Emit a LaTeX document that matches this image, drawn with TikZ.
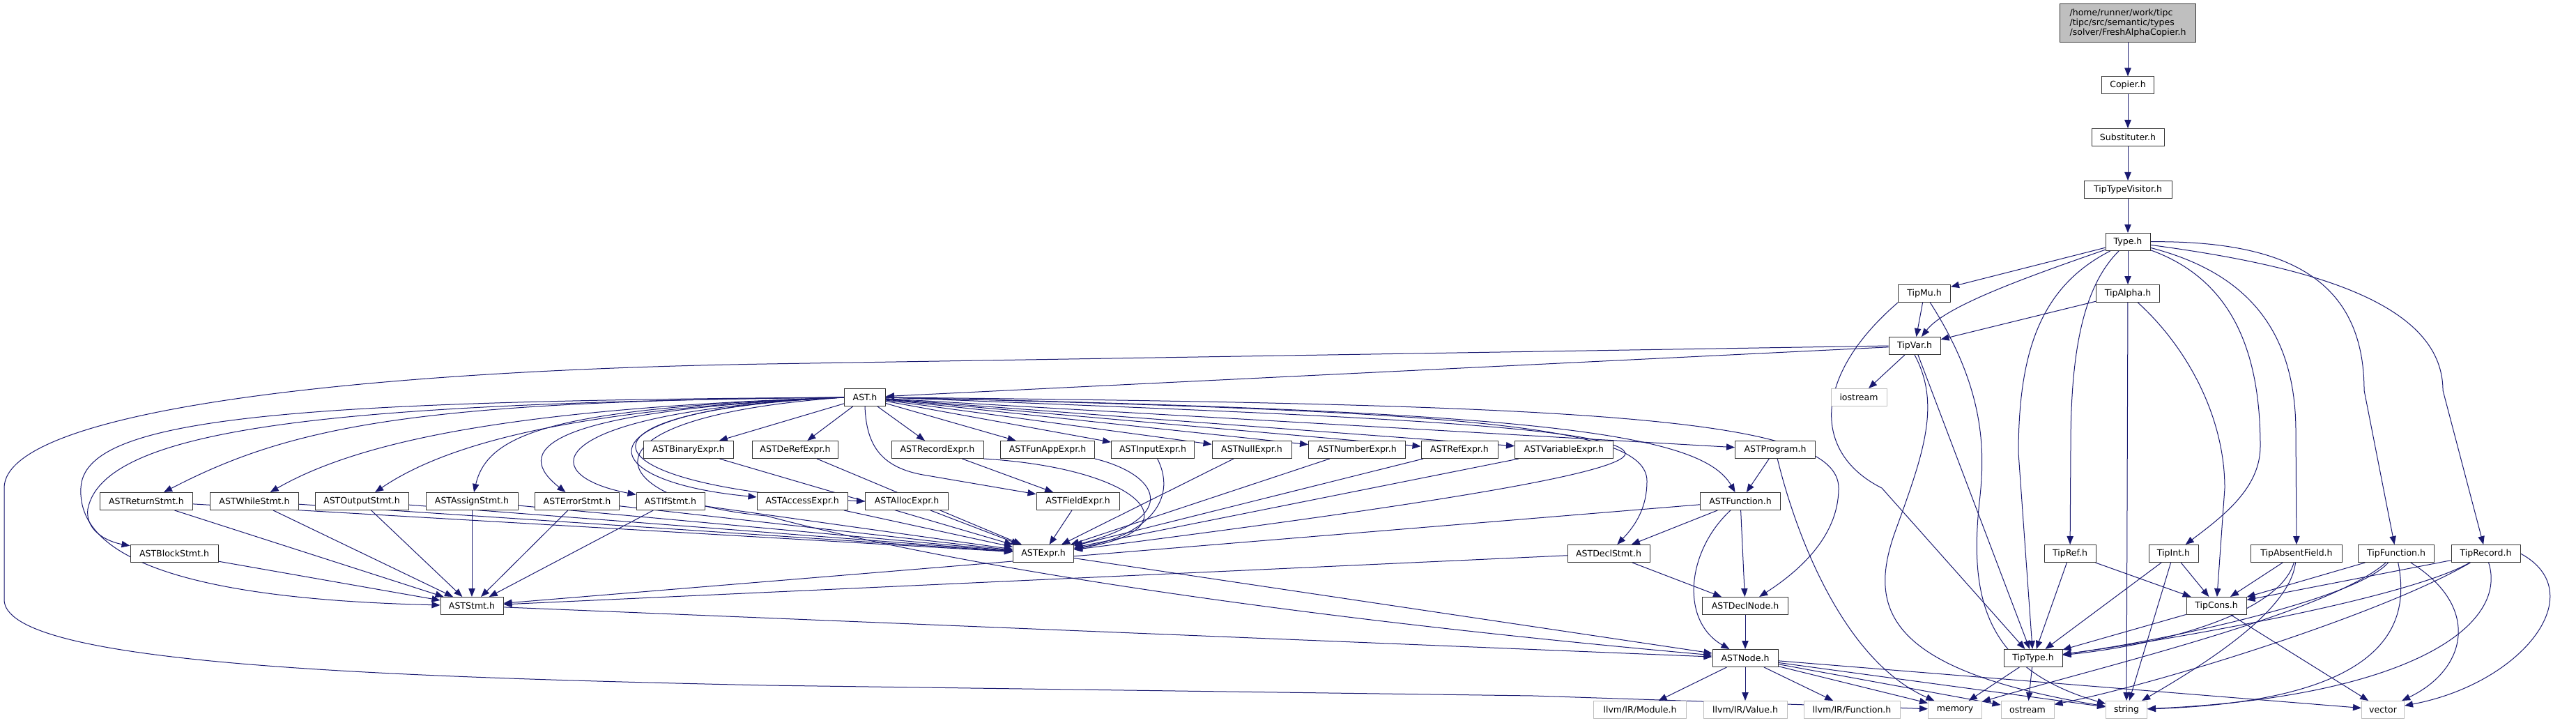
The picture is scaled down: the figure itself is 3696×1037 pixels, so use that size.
\documentclass[tikz,border=0pt]{standalone}
\usepackage{fontspec}
\setmainfont{DejaVu Sans}
\usetikzlibrary{arrows.meta,backgrounds}
\definecolor{edgeblue}{HTML}{191970}
\begin{document}
\begin{tikzpicture}[x=0.75pt,y=-0.75pt,
  box/.style={draw=black!80, line width=0.75pt, fill=white, minimum height=18.75pt, inner sep=0pt, font=\fontsize{9.4}{10.5}\selectfont, text=black},
  ext/.style={box, draw=black!25},
  bw/.style={minimum width=#1*0.75pt},
  dep/.style={draw=edgeblue, line width=0.75pt, -{Triangle[length=9pt,width=7pt]}}]
\useasboundingbox (0,0) rectangle (3696,1037);
% top chain
\node[box,bw=195,minimum height=41.25pt,fill=black!25,align=left] (fresh) at (3053,33) {/home/runner/work/tipc\\/tipc/src/semantic/types\\/solver/FreshAlphaCopier.h};
\node[box,bw=75] (copier) at (3053,122.5) {Copier.h};
\node[box,bw=104] (subst) at (3053,197) {Substituter.h};
\node[box,bw=126] (visitor) at (3053,272) {TipTypeVisitor.h};
\node[box,bw=64] (type) at (3053,347) {Type.h};
\node[box,bw=75] (tipmu) at (2761,421) {TipMu.h};
\node[box,bw=91] (tipalpha) at (3053,421) {TipAlpha.h};
\node[box,bw=74] (tipvar) at (2747,496) {TipVar.h};
\node[ext,bw=80] (iostream) at (2667,570) {iostream};
\node[box,bw=59] (ast) at (1241,570) {AST.h};
% row 645
\node[box,bw=129] (binary) at (988,645) {ASTBinaryExpr.h};
\node[box,bw=123] (deref) at (1141,645) {ASTDeRefExpr.h};
\node[box,bw=132] (record) at (1345,645) {ASTRecordExpr.h};
\node[box,bw=135] (funapp) at (1503,645) {ASTFunAppExpr.h};
\node[box,bw=119] (input) at (1654,645) {ASTInputExpr.h};
\node[box,bw=114] (null) at (1796,645) {ASTNullExpr.h};
\node[box,bw=139] (number) at (1947,645) {ASTNumberExpr.h};
\node[box,bw=110] (ref) at (2094,645) {ASTRefExpr.h};
\node[box,bw=141] (variable) at (2244,645) {ASTVariableExpr.h};
\node[box,bw=115] (program) at (2547,645) {ASTProgram.h};
% row 719
\node[box,bw=133] (ret) at (210,719) {ASTReturnStmt.h};
\node[box,bw=127] (wh) at (365,719) {ASTWhileStmt.h};
\node[box,bw=134] (output) at (519,719) {ASTOutputStmt.h};
\node[box,bw=132] (assign) at (677,719) {ASTAssignStmt.h};
\node[box,bw=121] (error) at (828,719) {ASTErrorStmt.h};
\node[box,bw=98] (ifs) at (962,719) {ASTIfStmt.h};
\node[box,bw=130] (access) at (1151,719) {ASTAccessExpr.h};
\node[box,bw=119] (alloc) at (1301,719) {ASTAllocExpr.h};
\node[box,bw=119] (field) at (1546.5,719) {ASTFieldExpr.h};
\node[box,bw=115] (func) at (2497,719) {ASTFunction.h};
% row 794
\node[box,bw=126] (block) at (250,794) {ASTBlockStmt.h};
\node[box,bw=87] (expr) at (1497,794) {ASTExpr.h};
\node[box,bw=118] (declstmt) at (2308,794) {ASTDeclStmt.h};
\node[box,bw=74] (tipref) at (2970,794) {TipRef.h};
\node[box,bw=71] (tipint) at (3118.5,794) {TipInt.h};
\node[box,bw=131] (absent) at (3295,794) {TipAbsentField.h};
\node[box,bw=109] (tipfunc) at (3438,794) {TipFunction.h};
\node[box,bw=99] (tiprecord) at (3566.5,794) {TipRecord.h};
% row 869
\node[box,bw=90] (stmt) at (677,869) {ASTStmt.h};
\node[box,bw=123] (declnode) at (2504,869) {ASTDeclNode.h};
\node[box,bw=86] (tipcons) at (3180,869) {TipCons.h};
% row 944
\node[box,bw=94] (astnode) at (2504,944) {ASTNode.h};
\node[box,bw=84] (tiptype) at (2917,944) {TipType.h};
% row 1018
\node[ext,bw=133] (module) at (2353,1018) {llvm/IR/Module.h};
\node[ext,bw=120] (value) at (2504,1018) {llvm/IR/Value.h};
\node[ext,bw=138] (llfunc) at (2657,1018) {llvm/IR/Function.h};
\node[ext,bw=77] (memory) at (2805,1018) {memory};
\node[ext,bw=76] (ostream) at (2909,1018) {ostream};
\node[ext,bw=59] (string) at (3051,1018) {string};
\node[ext,bw=61] (vector) at (3419,1018) {vector};

\begin{pgfonlayer}{background}
% chain
\draw[dep] (fresh) -- (copier);
\draw[dep] (copier) -- (subst);
\draw[dep] (subst) -- (visitor);
\draw[dep] (visitor) -- (type);
% Type.h
\draw[dep] (type) -- (tipmu);
\draw[dep] (type) .. controls (2900,400) and (2790,440) .. (tipvar);
\draw[dep] (type) .. controls (2930,410) and (2896,500) .. (2896,650) -- (tiptype);
\draw[dep] (type) .. controls (2990,410) and (2971,500) .. (2971,640) -- (tipref);
\draw[dep] (type) -- (tipalpha);
\draw[dep] (type) .. controls (3200,400) and (3243,500) .. (3243,640) .. controls (3243,700) and (3190,740) .. (tipint);
\draw[dep] (type) .. controls (3220,390) and (3294,470) .. (3294,620) -- (absent);
\draw[dep] (type) .. controls (3280,345) and (3392,400) .. (3392,560) -- (tipfunc);
\draw[dep] (type) .. controls (3300,380) and (3505,430) .. (3505,560) -- (tiprecord);
% TipMu, TipAlpha, TipVar
\draw[dep] (tipmu) -- (tipvar);
\draw[dep] (tipmu.south west) .. controls (2600,540) and (2600,650) .. (2700,700) -- (tiptype);
\draw[dep] (tipmu) .. controls (2850,560) and (2848,650) .. (2840,720) .. controls (2825,860) and (2850,960) .. (string);
\draw[dep] (tipalpha) -- (tipvar);
\draw[dep] (tipalpha) -- (string);
\draw[dep] (tipalpha) .. controls (3140,500) and (3192,600) .. (3192,700) -- (tipcons);
\draw[dep] (tipvar) -- (iostream);
\draw[dep] (tipvar) -- (tiptype);
\draw[dep] (tipvar) -- (ast);
\draw[dep] (tipvar.south) .. controls (2785,580) and (2760,650) .. (2720,760) .. controls (2680,870) and (2700,960) .. (string);
\draw[dep] (tipvar.west) -- (1100,522) .. controls (500,532) and (6,590) .. (6,700) -- (6,860) .. controls (6,950) and (500,970) .. (1100,983) -- (2200,998) -- (memory);
% Tip lower
\draw[dep] (tipref) -- (tiptype);
\draw[dep] (tipref) -- (tipcons);
\draw[dep] (tipint) -- (tiptype);
\draw[dep] (tipint) -- (string);
\draw[dep] (tipint) -- (tipcons);
\draw[dep] (absent) -- (tipcons);
\draw[dep] (absent) .. controls (3270,880) and (3100,925) .. (tiptype);
\draw[dep] (absent) .. controls (3285,880) and (3150,960) .. (string);
\draw[dep] (tipfunc) -- (tipcons);
\draw[dep] (tipfunc) .. controls (3380,860) and (3100,920) .. (tiptype);
\draw[dep] (tipfunc) .. controls (3340,880) and (3000,960) .. (memory);
\draw[dep] (tipfunc) .. controls (3460,900) and (3420,1005) .. (string);
\draw[dep] (tipfunc) .. controls (3560,870) and (3540,960) .. (vector);
\draw[dep] (tiprecord) -- (tipcons);
\draw[dep] (tiprecord) .. controls (3450,860) and (3100,920) .. (tiptype);
\draw[dep] (tiprecord) .. controls (3420,880) and (3100,980) .. (ostream);
\draw[dep] (tiprecord) .. controls (3600,900) and (3450,1000) .. (string);
\draw[dep] (tiprecord.east) .. controls (3720,850) and (3620,980) .. (vector);
\draw[dep] (tipcons) -- (tiptype);
\draw[dep] (tipcons) -- (vector);
\draw[dep] (tiptype) -- (memory);
\draw[dep] (tiptype) -- (ostream);
% AST.h fan
\foreach \n in {binary,deref,record,funapp,input,null,number,ref,variable,program}
  \draw[dep] (ast) -- (\n);
\draw[dep] (ast.west) .. controls (600,575) and (420,610) .. (ret);
\draw[dep] (ast.west) .. controls (750,585) and (520,630) .. (wh);
\draw[dep] (ast.west) .. controls (850,585) and (650,630) .. (output);
\draw[dep] (ast.west) .. controls (800,585) and (700,620) .. (assign);
\draw[dep] (ast.west) .. controls (760,590) and (740,650) .. (error);
\draw[dep] (ast.west) .. controls (780,590) and (760,680) .. (ifs);
\draw[dep] (ast.west) .. controls (820,585) and (840,690) .. (access);
\draw[dep] (ast.west) .. controls (780,590) and (840,700) .. (alloc.west);
\draw[dep] (ast.west) .. controls (500,578) and (150,610) .. (126,730) .. controls (122,765) and (160,778) .. (block);
\draw[dep] (ast.west) .. controls (400,575) and (120,600) .. (116,700) .. controls (110,810) and (300,860) .. (stmt);
\draw[dep] (ast.west) .. controls (800,600) and (870,720) .. (1100,740) .. controls (1400,820) and (1900,890) .. (astnode);
\draw[dep] (ast.south) .. controls (1243,640) and (1265,672) .. (1330,682) -- (field);
\draw[dep] (ast.east) .. controls (1900,595) and (2320,610) .. (2332,650) .. controls (2335,680) and (2000,730) .. (expr);
\draw[dep] (ast.east) .. controls (2100,590) and (2363,610) .. (2363,690) .. controls (2363,730) and (2345,755) .. (declstmt);
\draw[dep] (ast.east) .. controls (2200,590) and (2440,620) .. (func);
\draw[dep] (ast.east) .. controls (2300,580) and (2638,600) .. (2638,700) .. controls (2638,770) and (2580,820) .. (declnode);
% exprs
\foreach \n in {binary,deref,null,number,ref,variable,access,alloc,field}
  \draw[dep] (\n) -- (expr);
\draw[dep] (record) -- (field);
\draw[dep] (record.south east) .. controls (1640,672) and (1720,760) .. (expr);
\draw[dep] (funapp.south east) .. controls (1660,680) and (1700,740) .. (expr);
\draw[dep] (input) .. controls (1692,720) and (1640,770) .. (expr);
% stmts
\foreach \n in {ret,wh,output,assign,error,ifs} {
  \draw[dep] (\n) -- (stmt);
  \draw[dep] (\n) -- (expr);
}
\draw[dep] (block) -- (stmt);
\draw[dep] (stmt) -- (astnode);
\draw[dep] (expr) -- (astnode);
\draw[dep] (func) -- (stmt);
\draw[dep] (func) -- (declstmt);
\draw[dep] (func) -- (declnode);
\draw[dep] (func) .. controls (2420,790) and (2410,890) .. (astnode);
\draw[dep] (declstmt) -- (stmt);
\draw[dep] (declstmt) -- (declnode);
\draw[dep] (declnode) -- (astnode);
\draw[dep] (program) -- (func);
\draw[dep] (program) .. controls (2580,780) and (2650,950) .. (memory);
\foreach \n in {module,value,llfunc,memory,ostream,string,vector}
  \draw[dep] (astnode) -- (\n);
\end{pgfonlayer}
\end{tikzpicture}
\end{document}
